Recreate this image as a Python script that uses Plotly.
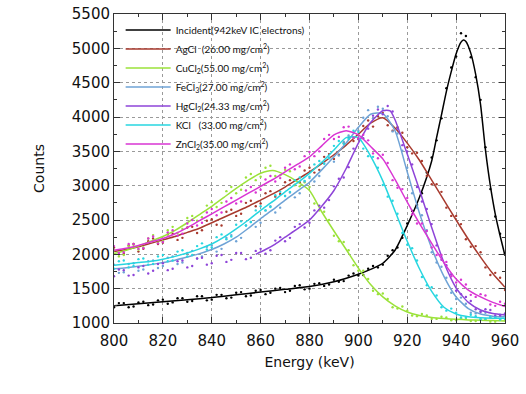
import plotly.graph_objects as go

# ---------------- data ----------------
names = [
    "Incident(942keV IC electrons)",
    "AgCl  (26.00 mg/cm<sup>2</sup>)",
    "CuCl<sub>2</sub>(55.00 mg/cm<sup>2</sup>)",
    "FeCl<sub>3</sub>(27.00 mg/cm<sup>2</sup>)",
    "HgCl<sub>2</sub>(24.33 mg/cm<sup>2</sup>)",
    "KCl   (33.00 mg/cm<sup>2</sup>)",
    "ZnCl<sub>2</sub>(35.00 mg/cm<sup>2</sup>)",
]
colors = ["#000000", "#a83a2e", "#9be23a", "#6fa3d6", "#8e44d8", "#27d6e0", "#d935d3"]

# measured points (keV), two interleaved sets every 4 keV
dot_energy_a = [800, 804, 808, 812, 816, 820, 824, 828, 832, 836, 840, 844, 848, 852,
                856, 860, 864, 868, 872, 876, 880, 884, 888, 892, 896, 900, 904, 908,
                912, 916, 920, 924, 928, 932, 936, 940, 944, 948, 952, 956, 960]
dot_energy_b = [802, 806, 810, 814, 818, 822, 826, 830, 834, 838, 842, 846, 850, 854,
                858, 862, 866, 870, 874, 878, 882, 886, 890, 894, 898, 902, 906, 910,
                914, 918, 922, 926, 930, 934, 938, 942, 946, 950, 954, 958]

incident_dots_a = [1230, 1290, 1240, 1310, 1270, 1340, 1300, 1360, 1320, 1390, 1340, 1410, 1370, 1450,
                   1400, 1480, 1440, 1510, 1470, 1550, 1500, 1580, 1560, 1600, 1690, 1690, 1790, 1810,
                   1980, 2100, 2450, 2720, 3190, 3660, 4420, 4880, 5180, 4580, 3560, 2550, 2010]
incident_dots_b = [1290, 1230, 1300, 1260, 1330, 1280, 1360, 1310, 1390, 1330, 1410, 1360, 1440, 1390,
                   1470, 1420, 1500, 1450, 1540, 1490, 1570, 1540, 1630, 1610, 1720, 1700, 1830, 1850,
                   2060, 2240, 2630, 2890, 3410, 3980, 4720, 5220, 4870, 4250, 2950, 2300]
agcl_dots_a = [2100, 2010, 2150, 2080, 2230, 2170, 2300, 2240, 2400, 2350, 2510, 2420, 2650, 2590,
               2780, 2740, 2920, 2880, 3080, 3050, 3260, 3230, 3460, 3450, 3700, 3680, 3950, 4010,
               3880, 3850, 3560, 3480, 3140, 3020, 2680, 2560, 2220, 2120, 1810, 1730, 1480]
agcl_dots_b = [2000, 2130, 2040, 2190, 2150, 2290, 2210, 2390, 2310, 2490, 2430, 2620, 2560, 2750,
               2700, 2890, 2840, 3050, 3010, 3220, 3190, 3420, 3390, 3620, 3650, 3870, 3860, 4060,
               3800, 3770, 3470, 3360, 3020, 2910, 2560, 2440, 2110, 2030, 1700, 1660]
cucl2_dots_a = [2060, 1990, 2140, 2100, 2280, 2190, 2400, 2370, 2560, 2540, 2760, 2750, 2980, 2940,
                3170, 3130, 3290, 3150, 3210, 2990, 2980, 2640, 2500, 2190, 2060, 1760, 1640, 1420,
                1350, 1210, 1180, 1100, 1110, 1060, 1080, 1040, 1060, 1030, 1050, 1020, 1040]
cucl2_dots_b = [1970, 2120, 2070, 2230, 2170, 2350, 2310, 2530, 2490, 2710, 2690, 2920, 2890, 3120,
                3080, 3260, 3140, 3230, 3010, 3050, 2740, 2620, 2270, 2180, 1840, 1760, 1470, 1430,
                1230, 1240, 1110, 1130, 1060, 1090, 1040, 1070, 1030, 1060, 1020, 1050]
fecl3_dots_a = [1850, 1740, 1870, 1780, 1910, 1830, 1970, 1880, 2050, 1970, 2130, 2080, 2280, 2240,
                2470, 2460, 2700, 2680, 2900, 2890, 3110, 3140, 3410, 3440, 3730, 3800, 4100, 4150,
                4010, 3760, 3260, 2680, 2350, 1880, 1660, 1350, 1280, 1140, 1150, 1080, 1110]
fecl3_dots_b = [1730, 1860, 1760, 1900, 1800, 1950, 1860, 2020, 1940, 2110, 2040, 2240, 2190, 2420,
                2400, 2640, 2610, 2850, 2830, 3060, 3060, 3330, 3350, 3640, 3700, 3990, 3980, 4120,
                3790, 3510, 2890, 2570, 2030, 1820, 1440, 1370, 1150, 1170, 1080, 1120]
hgcl2_dots_a = [1680, 1770, 1700, 1830, 1760, 1870, 1790, 1910, 1830, 1950, 1870, 1990, 1920, 2020,
                1950, 2080, 2060, 2250, 2240, 2440, 2460, 2710, 2790, 3100, 3270, 3680, 3830, 4110,
                4160, 3830, 3500, 2980, 2660, 2130, 1840, 1470, 1380, 1200, 1200, 1110, 1140]
hgcl2_dots_b = [1780, 1690, 1810, 1720, 1860, 1770, 1900, 1810, 1940, 1850, 1980, 1890, 2020, 1930,
                2050, 2010, 2200, 2190, 2400, 2390, 2640, 2680, 2990, 3120, 3540, 3690, 4020, 4040,
                4080, 3590, 3310, 2770, 2440, 1920, 1710, 1420, 1320, 1160, 1190, 1110]
kcl_dots_a = [1790, 1910, 1830, 1940, 1860, 1990, 1910, 2060, 1990, 2160, 2100, 2290, 2260, 2480,
              2470, 2700, 2690, 2910, 2910, 3120, 3130, 3360, 3400, 3650, 3680, 3780, 3430, 3260,
              2840, 2590, 2140, 1910, 1550, 1400, 1180, 1150, 1080, 1100, 1060, 1080, 1060]
kcl_dots_b = [1900, 1810, 1930, 1850, 1970, 1900, 2040, 1970, 2120, 2070, 2250, 2220, 2430, 2420,
              2640, 2640, 2860, 2850, 3080, 3070, 3310, 3320, 3580, 3610, 3800, 3540, 3420, 3010,
              2780, 2310, 2090, 1670, 1520, 1230, 1210, 1080, 1120, 1050, 1090, 1050]
zncl2_dots_a = [2120, 2030, 2150, 2090, 2260, 2180, 2350, 2300, 2500, 2460, 2660, 2610, 2820, 2770,
                2980, 2940, 3140, 3110, 3310, 3280, 3490, 3500, 3740, 3710, 3860, 3690, 3660, 3400,
                3330, 2970, 2820, 2450, 2340, 1990, 1890, 1590, 1560, 1380, 1400, 1250, 1280]
zncl2_dots_b = [2020, 2150, 2080, 2230, 2160, 2320, 2270, 2450, 2420, 2610, 2570, 2770, 2740, 2930,
                2900, 3090, 3060, 3260, 3240, 3430, 3430, 3680, 3680, 3850, 3700, 3740, 3470, 3450,
                3080, 2950, 2580, 2450, 2100, 1990, 1680, 1630, 1410, 1420, 1270, 1310]

# fitted curves
fit_energy = [800, 805, 810, 815, 820, 825, 830, 835, 840, 845, 850, 855, 860, 865, 870, 875,
              880, 885, 890, 895, 900, 905, 910, 915, 920, 925, 930, 935, 940, 945, 950, 955, 960]

incident_fit_energy = [800, 810, 820, 830, 840, 850, 860, 870, 880, 890, 900, 905, 910, 915, 920,
                       925, 930, 932, 934, 936, 938, 940, 942, 943, 944, 946, 948, 950, 952, 954,
                       956, 958, 960]
incident_fit = [1250, 1280, 1310, 1340, 1370, 1410, 1450, 1490, 1530, 1600, 1710, 1780, 1870, 2060,
                2420, 2830, 3360, 3700, 4030, 4370, 4660, 4920, 5090, 5120, 5100, 4930, 4620, 4180,
                3520, 3000, 2590, 2270, 1980]
agcl_fit = [2040, 2070, 2110, 2160, 2210, 2260, 2320, 2380, 2460, 2540, 2620, 2700, 2790, 2880,
            2980, 3090, 3200, 3320, 3450, 3590, 3750, 3910, 3990, 3840, 3620, 3370, 3080, 2790,
            2500, 2220, 1960, 1720, 1520]
cucl2_fit = [2010, 2060, 2120, 2190, 2260, 2350, 2460, 2580, 2700, 2830, 2960, 3080, 3180, 3220,
             3160, 3060, 2930, 2620, 2340, 2070, 1800, 1560, 1380, 1250, 1160, 1110, 1080, 1065,
             1055, 1045, 1040, 1035, 1030]
fecl3_fit = [1790, 1805, 1825, 1850, 1880, 1915, 1960, 2010, 2070, 2150, 2250, 2380, 2520, 2650,
             2790, 2920, 3050, 3230, 3420, 3620, 3850, 4040, 4050, 3800, 3200, 2600, 2090, 1680,
             1380, 1210, 1130, 1100, 1090]
hgcl2_fit_energy = [858, 862, 866, 870, 875, 880, 885, 890, 895, 900, 905, 910, 913, 915, 920, 925,
                    930, 935, 940, 945, 950, 955, 960]
hgcl2_fit = [2000, 2070, 2150, 2250, 2370, 2500, 2700, 2930, 3250, 3620, 3920, 4090, 4090, 3960,
             3460, 2940, 2390, 1880, 1510, 1300, 1190, 1140, 1120]
kcl_fit = [1840, 1860, 1880, 1900, 1930, 1970, 2020, 2080, 2150, 2250, 2370, 2500, 2640, 2770,
           2910, 3040, 3180, 3340, 3520, 3700, 3700, 3430, 3070, 2630, 2190, 1790, 1460, 1230,
           1130, 1090, 1075, 1070, 1070]
zncl2_fit = [2060, 2090, 2130, 2180, 2230, 2300, 2390, 2490, 2590, 2690, 2790, 2890, 2990, 3090,
             3200, 3310, 3420, 3580, 3740, 3800, 3740, 3570, 3390, 3090, 2760, 2450, 2160, 1880,
             1640, 1480, 1380, 1300, 1240]

x_ticks = [800, 820, 840, 860, 880, 900, 920, 940, 960]
y_ticks = [1000, 1500, 2000, 2500, 3000, 3500, 4000, 4500, 5000, 5500]

dots = [(incident_dots_a, incident_dots_b), (agcl_dots_a, agcl_dots_b), (cucl2_dots_a, cucl2_dots_b),
        (fecl3_dots_a, fecl3_dots_b), (hgcl2_dots_a, hgcl2_dots_b), (kcl_dots_a, kcl_dots_b),
        (zncl2_dots_a, zncl2_dots_b)]
fits = [(incident_fit_energy, incident_fit), (fit_energy, agcl_fit), (fit_energy, cucl2_fit),
        (fit_energy, fecl3_fit), (hgcl2_fit_energy, hgcl2_fit), (fit_energy, kcl_fit),
        (fit_energy, zncl2_fit)]

# ---------------- figure ----------------
fig = go.Figure()
for name, col, (da, db), (fe, fv) in zip(names, colors, dots, fits):
    fig.add_trace(go.Scatter(x=dot_energy_a + dot_energy_b, y=da + db, mode="markers",
                             showlegend=False, marker=dict(color=col, size=2.4, line_width=0),
                             hoverinfo="skip"))
    fig.add_trace(go.Scatter(x=fe, y=fv, mode="lines", name=name,
                             line=dict(color=col, width=1.5, shape="spline", smoothing=0.6)))

axis_common = dict(showline=True, linecolor="#333", linewidth=1, mirror="ticks",
                   ticks="inside", ticklen=6, tickcolor="#333", automargin=False,
                   ticklabeloverflow="allow",
                   showgrid=True, gridcolor="#9a9a9a", griddash="dot", gridwidth=1,
                   zeroline=False, tickfont=dict(family="DejaVu Sans", size=15, color="#111"))

fig.update_xaxes(range=[800, 960], tickvals=x_ticks, ticklabelstandoff=4,
                 minor=dict(ticks="inside", ticklen=3, dtick=10, tickcolor="#333", showgrid=False),
                 title=dict(text="Energy (keV)", font=dict(family="DejaVu Sans", size=14, color="#111"),
                            standoff=8),
                 **axis_common)
fig.update_yaxes(range=[1000, 5500], tickvals=y_ticks,
                 minor=dict(ticks="inside", ticklen=3, dtick=250, tickcolor="#333", showgrid=False),
                 title=dict(text="Counts", font=dict(family="DejaVu Sans", size=14, color="#111"),
                            standoff=23),
                 **axis_common)

fig.update_layout(
    width=526, height=394,
    margin=dict(l=114, r=21, t=14, b=71),
    plot_bgcolor="white", paper_bgcolor="white",
    legend=dict(x=0.017, y=0.995, xanchor="left", yanchor="top",
                bgcolor="rgba(255,255,255,0)", borderwidth=0, itemwidth=45,
                font=dict(family="Lato", size=10, color="#111"),
                tracegroupgap=0),
)

# remove the browser's default 8 px page margin so the figure fills the window exactly
fig.write_html("out.html", config={"displayModeBar": False},
               post_script="document.body.style.margin='0px';document.body.style.overflow='hidden';")
